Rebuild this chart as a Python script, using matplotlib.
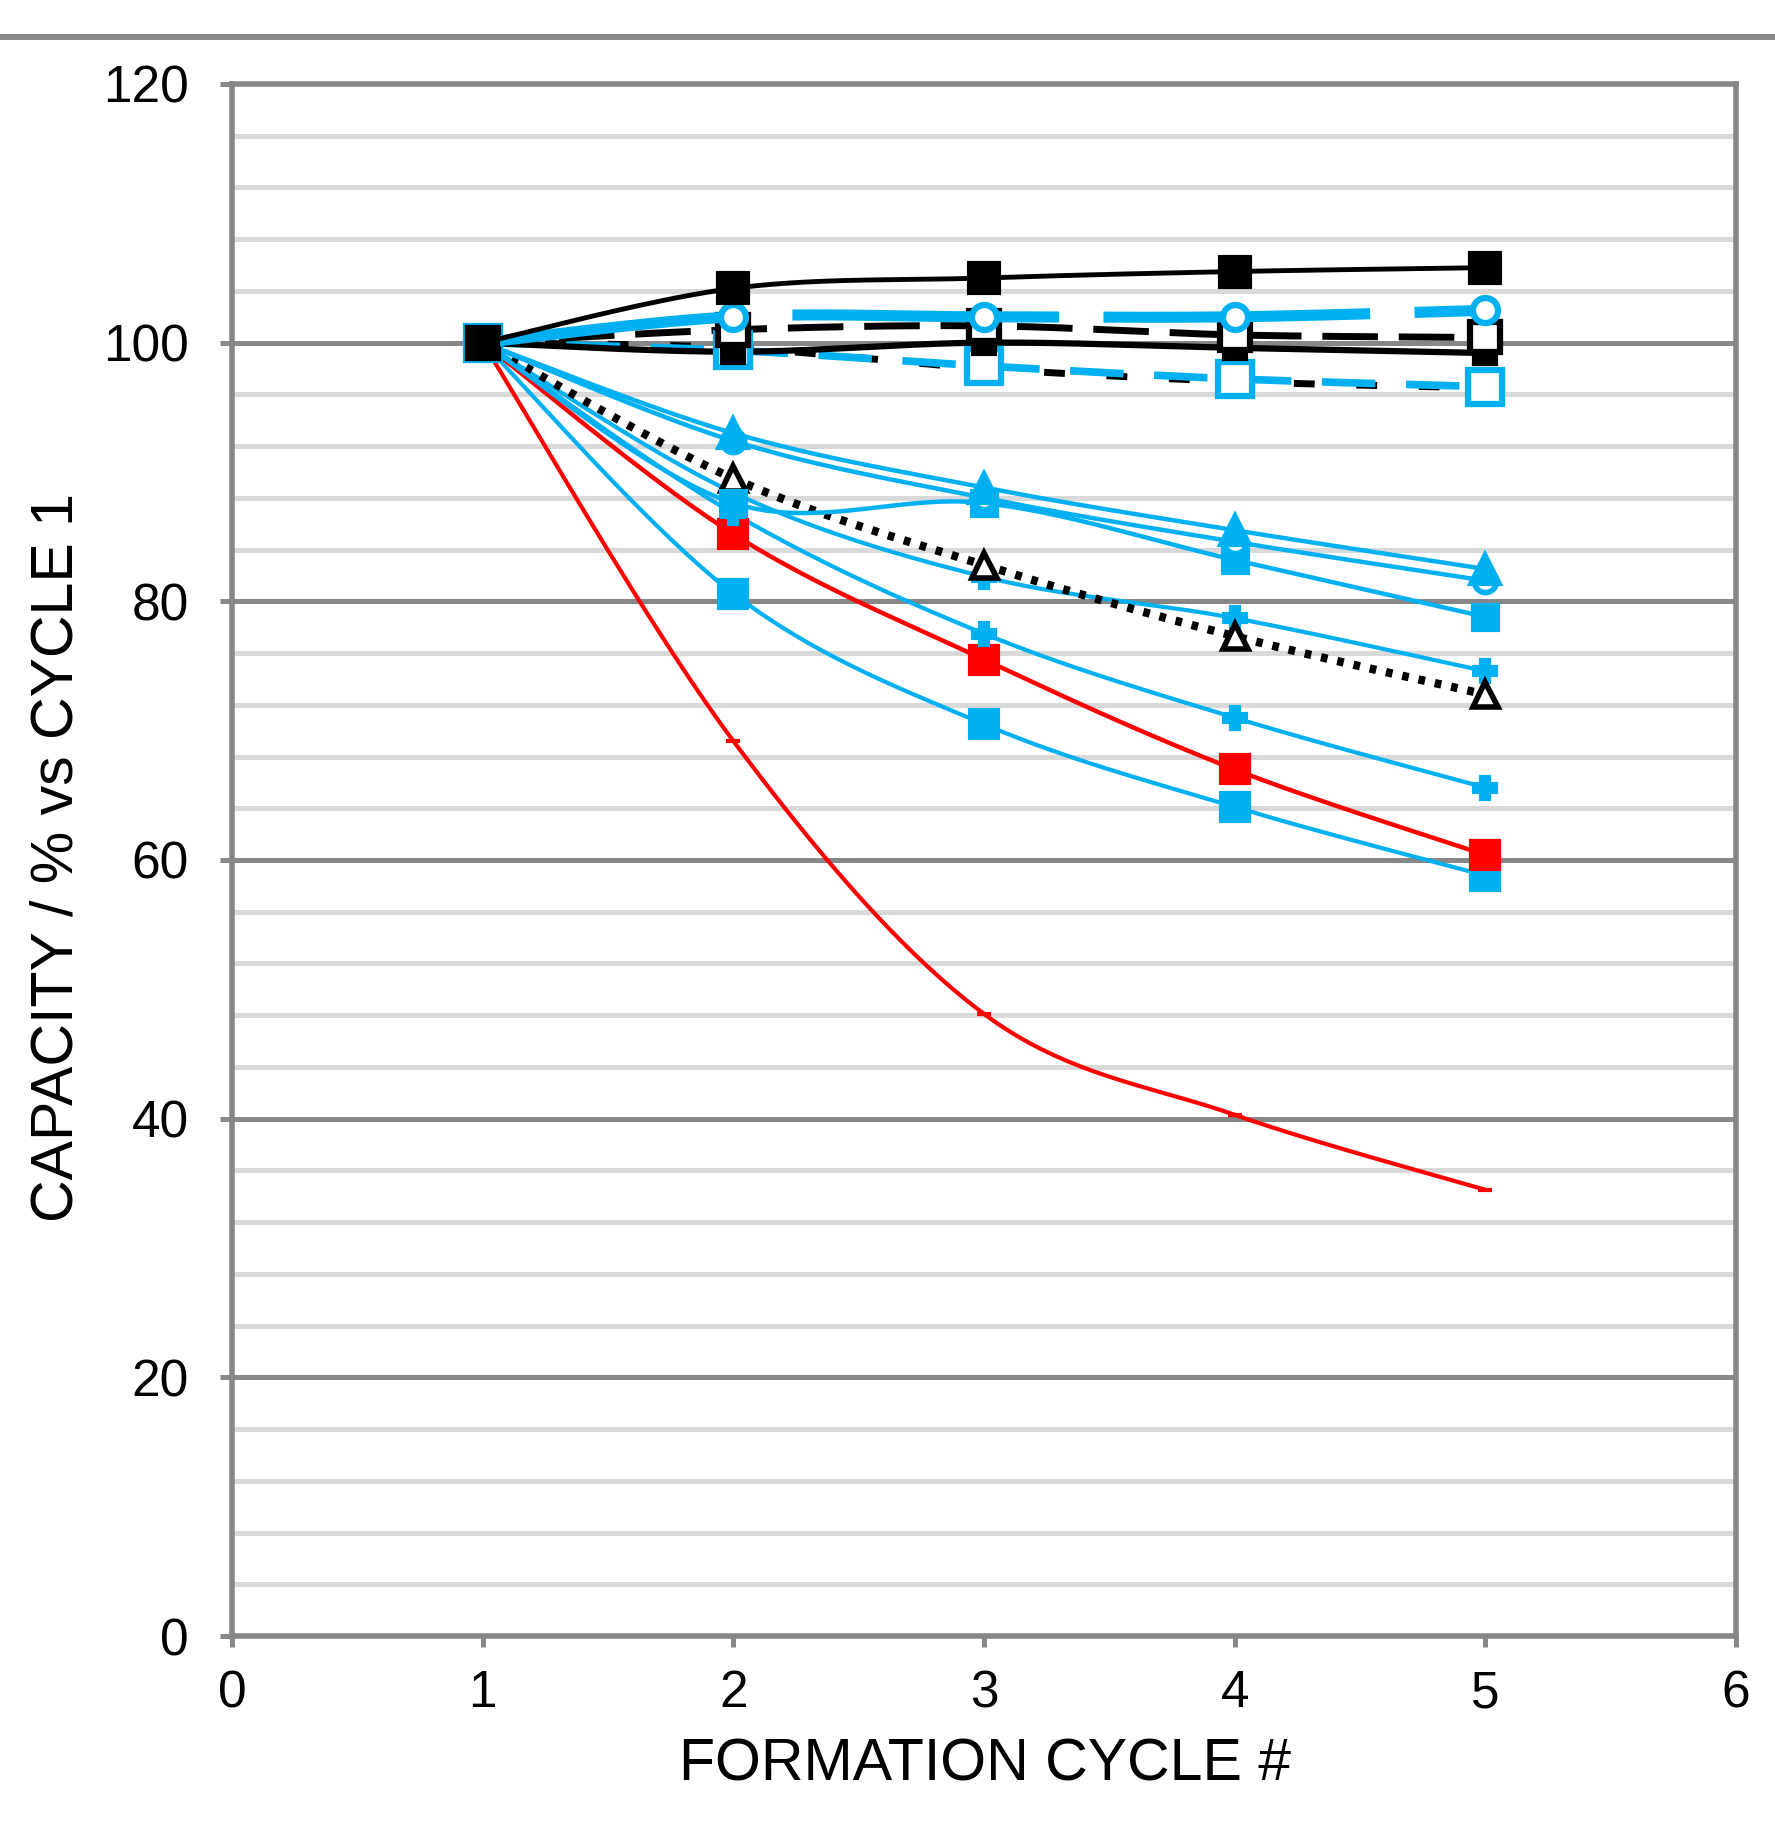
import numpy as np
import matplotlib
matplotlib.use('Agg')
import matplotlib.pyplot as plt
from matplotlib.lines import Line2D

plt.rcParams['font.family'] = ['Liberation Sans', 'DejaVu Sans']

# data: capacity (% of cycle 1) per formation cycle
cycles = [1, 2, 3, 4, 5]
blk_sq_up = [100, 104.2, 105.0, 105.5, 105.8]
cyan_circ = [100, 102.0, 102.0, 102.0, 102.5]
blk_dash = [100, 101.0, 101.3, 100.6, 100.4]
blk_solid = [100, 99.3, 100.0, 99.6, 99.2]
cyan_osq = [100, 99.4, 98.2, 97.2, 96.6]
blk_dash2 = [100, 99.6, 98.0, 97.0, 96.5]
cyan_tri = [100, 93.0, 88.8, 85.5, 82.5]
cyan_ocirc = [100, 92.4, 88.0, 84.6, 81.6]
cyan_sq1 = [100, 87.6, 87.6, 83.2, 78.8]
blk_dot = [100, 89.5, 82.8, 77.3, 72.8]
cyan_star1 = [100, 88.4, 81.9, 78.7, 74.6]
cyan_star2 = [100, 86.8, 77.5, 71.0, 65.6]
red_sq = [100, 85.2, 75.5, 67.0, 60.4]
cyan_sq2 = [100, 80.6, 70.5, 64.1, 58.8]
red_thin = [100, 69.2, 48.1, 40.3, 34.5]

xticks = [0, 1, 2, 3, 4, 5, 6]
yticks = [0, 20, 40, 60, 80, 100, 120]

CYAN = '#00B0F0'
RED = '#FF0000'
GRID = '#878787'
MINOR = '#D9D9D9'


def smooth(xs, ys, n=40):
    # excel-style smoothed line (bezier through the points)
    p = np.column_stack([xs, ys]).astype(float)
    out = []
    for i in range(len(p) - 1):
        p0 = p[max(i - 1, 0)]
        p1 = p[i]
        p2 = p[i + 1]
        p3 = p[min(i + 2, len(p) - 1)]
        c1 = p1 + (p2 - p0) / 6
        c2 = p2 - (p3 - p1) / 6
        t = np.linspace(0, 1, n)[:, None]
        seg = (1 - t)**3 * p1 + 3 * (1 - t)**2 * t * c1 + 3 * (1 - t) * t**2 * c2 + t**3 * p2
        out.append(seg if i == 0 else seg[1:])
    s = np.vstack(out)
    return s[:, 0], s[:, 1]


fig = plt.figure(figsize=(17.75, 18.35), dpi=100)
ax = fig.add_axes([232 / 1775, 1 - 1636 / 1835, 1504 / 1775, 1552 / 1835])

# grid
for v in np.arange(4, 120, 4):
    if v % 20:
        ax.axhline(v, color=MINOR, lw=3.6, zorder=0)
for v in yticks[1:-1]:
    ax.axhline(v, color=GRID, lw=3.6, zorder=0.5)


def series(y, color, lw, ls='-', marker=None, ms=0, mfc=None, mew=3, dashes=None, z=2):
    sx, sy = smooth(cycles, y)
    ln, = ax.plot(sx, sy, color=color, lw=lw, ls=ls, zorder=z, solid_capstyle='butt',
                  dash_capstyle='butt')
    if dashes is not None:
        ln.set_dashes(dashes)
    if marker:
        ax.plot(cycles, y, ls='none', marker=marker, ms=ms, color=color,
                mfc=mfc if mfc else color, mec=color, mew=mew, zorder=z + 0.5)


series(red_thin, RED, 3.0, marker='_', ms=10, mew=3)
series(cyan_sq2, CYAN, 3.0, marker='s', ms=20)
series(red_sq, RED, 3.2, marker='s', ms=20)
series(cyan_star2, CYAN, 3.0, marker='P', ms=16)
series(cyan_star1, CYAN, 3.0, marker='P', ms=16)
series(blk_dot, 'black', 6.0, marker='^', ms=18, mfc='white', mew=4, dashes=(0.8, 1.2))
series(cyan_sq1, CYAN, 3.2, marker='s', ms=18)
series(cyan_ocirc, CYAN, 3.2, marker='o', ms=16, mfc='white', mew=4)
series(cyan_tri, CYAN, 3.2, marker='^', ms=22)
series(blk_dash2, 'black', 5.0, dashes=(3, 6))
series(cyan_osq, CYAN, 5.5, marker='s', ms=24, mfc='white', mew=4.5, dashes=(7, 4))
series(blk_solid, 'black', 4.5, marker='s', ms=16)
series(blk_dash, 'black', 5.0, marker='s', ms=22, mfc='white', mew=4.5, dashes=(8, 3))
series(cyan_circ, CYAN, 8.0, marker='o', ms=18, mfc='white', mew=4.5, dashes=(24, 4), z=3)
series(blk_sq_up, 'black', 3.5, marker='s', ms=21, z=3)

ax.set_xlim(0, 6)
ax.set_ylim(0, 120)
ax.set_xticks(xticks)
ax.set_yticks(yticks)
for sp in ax.spines.values():
    sp.set_color(GRID)
    sp.set_linewidth(4)
ax.tick_params(axis='both', direction='out', color=GRID, width=3.6, labelsize=37)
ax.tick_params(axis='x', length=8, pad=16)
ax.tick_params(axis='y', length=9, pad=22)

fig.text(985 / 1775, 1 - 1765 / 1835, 'FORMATION CYCLE #', fontsize=42.5,
         ha='center', va='center')
fig.text(57 / 1775, 1 - 857 / 1835, 'CAPACITY / % vs CYCLE 1', fontsize=42.5,
         rotation=90, ha='center', va='center')

# page rule above the chart
fig.add_artist(Line2D([0, 1], [1 - 37 / 1835] * 2, transform=fig.transFigure,
                      color='#888888', lw=4.3))

fig.savefig('out.png', dpi=100)
